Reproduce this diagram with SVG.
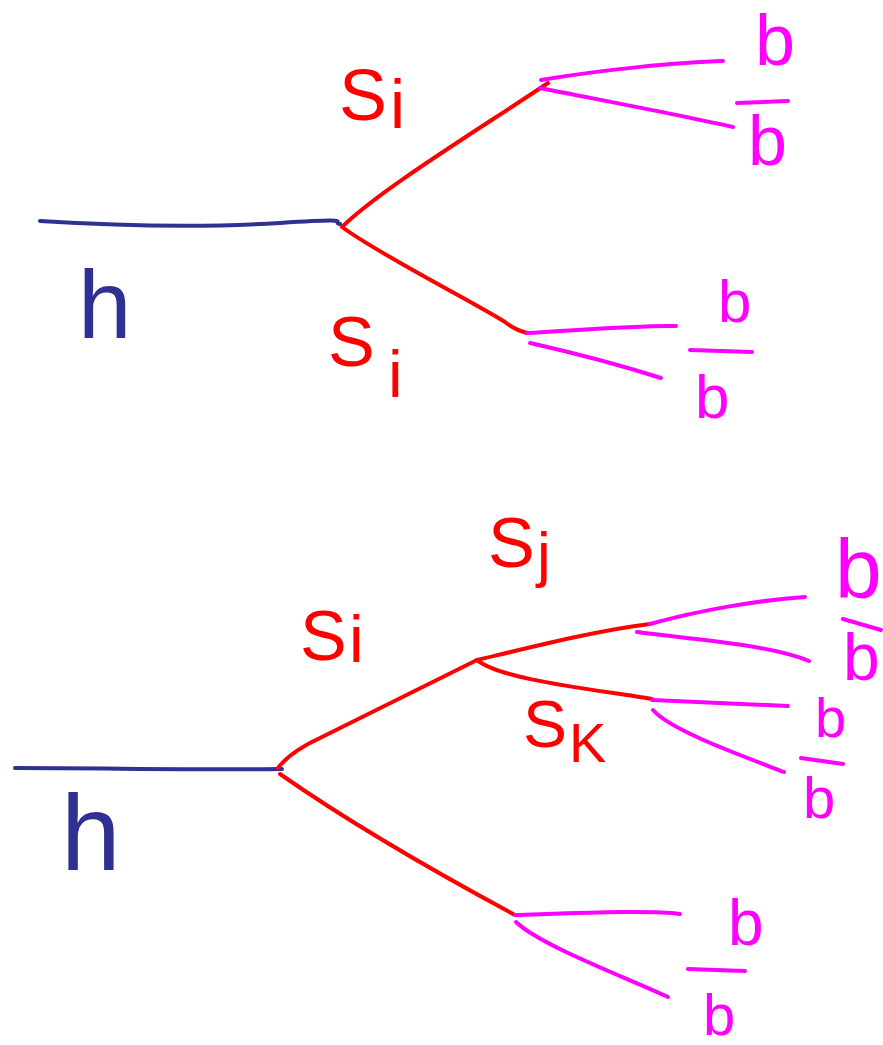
<svg xmlns="http://www.w3.org/2000/svg" width="883" height="1045" viewBox="0 0 883 1045">
<style>
.c{fill:none;stroke-width:4;stroke-linecap:round;stroke-linejoin:round}
.blue{stroke:#2E3192}
.red{stroke:#FF0000}
.mag{stroke:#FF00FF}
.t{font-family:"Liberation Sans","DejaVu Sans",sans-serif}
.tr{fill:#FF0000}
.tm{fill:#FF00FF}
.tb{fill:#2E3192}
.bar{stroke:#FF00FF;stroke-width:4;stroke-linecap:round;fill:none}
</style>
<rect width="883" height="1045" fill="#FFFFFF"/>
<g id="connectors">
  <path class="c blue" d="M40,221 C120,226 200,228 280,223 S330,222 340,224"/>
  <path class="c red" d="M548,83 C470,135 380,190 342,227 C380,255 470,300 505,322 Q515,330 527,333"/>
  <path class="c mag" d="M541,80 C600,70 680,62 723,61"/>
  <path class="c mag" d="M540,88 C600,100 680,115 733,127"/>
  <path class="c mag" d="M527,333 C580,330 640,325 676,326"/>
  <path class="c mag" d="M530,343 C570,352 620,365 661,378"/>
  <path class="c blue" d="M15,768 C100,768 200,770 282,769"/>
  <path class="c red" d="M278,768 Q290,752 320,738 L477,660"/>
  <path class="c red" d="M477,660 C540,645 600,630 650,624"/>
  <path class="c red" d="M477,660 C500,680 600,690 652,699"/>
  <path class="c red" d="M280,774 C360,830 450,880 515,915"/>
  <path class="c mag" d="M650,624 C700,610 760,600 805,597"/>
  <path class="c mag" d="M637,632 C700,640 770,645 809,661"/>
  <path class="c mag" d="M652,700 L788,706"/>
  <path class="c mag" d="M653,710 C670,730 740,755 784,772"/>
  <path class="c mag" d="M515,915 C580,913 650,910 680,914"/>
  <path class="c mag" d="M516,922 C540,945 620,975 668,997"/>
</g>
<g id="label-h-top"><text class="t tb" x="78" y="338" font-size="96">h</text></g>
<g id="label-si-top"><text class="t tr" x="339" y="120" font-size="72">S</text><text class="t tr" x="390" y="128" font-size="68">i</text></g>
<g id="label-si-mid"><text class="t tr" x="328" y="366" font-size="70">S</text><text class="t tr" x="388" y="397" font-size="66">i</text></g>
<g id="label-b1"><text class="t tm" x="755" y="65" font-size="72">b</text></g>
<g id="label-bbar1"><line class="bar" x1="737" y1="103" x2="788" y2="101"/><text class="t tm" x="748" y="165" font-size="70">b</text></g>
<g id="label-b2"><text class="t tm" x="718" y="322" font-size="60">b</text></g>
<g id="label-bbar2"><line class="bar" x1="690" y1="350" x2="752" y2="352"/><text class="t tm" x="695" y="418" font-size="62">b</text></g>
<g id="label-h-bottom"><text class="t tb" x="61" y="870" font-size="107">h</text></g>
<g id="label-si-bottom"><text class="t tr" x="300" y="660" font-size="70">S</text><text class="t tr" x="349" y="662" font-size="66">i</text></g>
<g id="label-sj"><text class="t tr" x="488" y="567" font-size="70">S</text><text class="t tr" x="537" y="575" font-size="62">j</text></g>
<g id="label-sk"><text class="t tr" x="523" y="747" font-size="66">S</text><text class="t tr" x="569" y="762" font-size="56">K</text></g>
<g id="label-b3"><text class="t tm" x="835" y="598" font-size="84">b</text></g>
<g id="label-bbar3"><line class="bar" x1="843" y1="619" x2="881" y2="630"/><text class="t tm" x="843" y="680" font-size="66">b</text></g>
<g id="label-b4"><text class="t tm" x="815" y="737" font-size="56">b</text></g>
<g id="label-bbar4"><line class="bar" x1="801" y1="758" x2="843" y2="764"/><text class="t tm" x="803" y="818" font-size="58">b</text></g>
<g id="label-b5"><text class="t tm" x="728" y="945" font-size="64">b</text></g>
<g id="label-bbar5"><line class="bar" x1="688" y1="969" x2="745" y2="971"/><text class="t tm" x="703" y="1035" font-size="58">b</text></g>
</svg>
